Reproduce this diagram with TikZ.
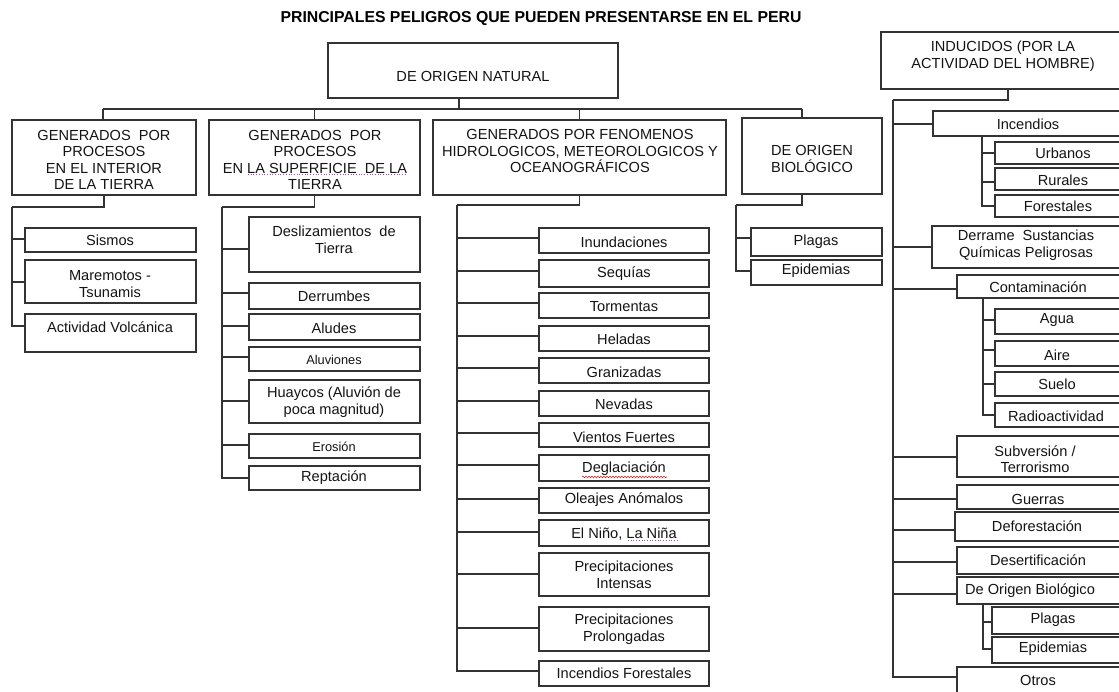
\documentclass[tikz,border=0pt]{standalone}
\usepackage{fontspec}
\setmainfont{Liberation Sans}
\usetikzlibrary{fit,decorations.pathmorphing}
\definecolor{linec}{HTML}{333333}
\definecolor{txtc}{HTML}{141414}
\definecolor{spellr}{HTML}{E02020}
\definecolor{spellm}{HTML}{B040C0}
\newcommand\fsn{\fontsize{14.6}{16.6}\selectfont}
\newcommand\fss{\fontsize{12.8}{14}\selectfont}
\newcommand\curtrunk{t1}
% box node with text: name, x1, y1, x2, y2, text x, text y, text
\newcommand\hb[8]{%
  \node[box, fit={(#2,#3) (#4,#5)}] (#1) {};
  \node[txt] (#1-t) at (#6,#7) {#8};}
% leaf: name, x1, y1, x2, y2, branch y, text x, text y, text
\newcommand\leaf[9]{%
  \node[box, fit={(#2,#3) (#4,#5)}] (#1) {};
  \node[txt] (#1-t) at (#7,#8) {#9};
  \coordinate (#1-in) at (#2,#6);
  \draw[conn] (\curtrunk) |- (#1-in);}
\begin{document}
\begin{tikzpicture}[x=1pt,y=-1pt,
  box/.style={draw=linec, line width=1.15pt, inner sep=0pt, rectangle},
  txt/.style={font=\fsn, align=center, inner sep=0pt, text=txtc},
  conn/.style={draw=linec, line width=1.15pt}]
\useasboundingbox (0,0) rectangle (1119,692);
\clip (0,0) rectangle (1119,692);
\fill[white] (0,0) rectangle (1119,692);

\node[font=\fontsize{15.8}{18}\selectfont\bfseries, text=black, inner sep=0pt] (title) at (541,19) {PRINCIPALES PELIGROS QUE PUEDEN PRESENTARSE EN EL PERU};

% top level
\hb{nat}{328}{43}{618}{98}{473}{76}{DE ORIGEN NATURAL}
\hb{b1}{12}{120}{196}{195}{104}{160}{GENERADOS\ \ POR\\PROCESOS\\EN EL INTERIOR\\DE LA TIERRA}
\hb{b2}{209}{120}{420}{195}{315}{160}{GENERADOS\ \ POR\\PROCESOS\\EN LA SUPERFICIE\ \ DE LA\\TIERRA}
\hb{b3}{433}{120}{726}{195}{580}{151}{GENERADOS POR FENOMENOS\\HIDROLOGICOS, METEOROLOGICOS Y\\OCEANOGRÁFICOS}
\hb{b4}{742}{118}{882}{194}{812}{159}{DE ORIGEN\\BIOLÓGICO}
\hb{ind}{881}{32}{1135}{89}{1003}{56}{INDUCIDOS (POR LA\\ACTIVIDAD DEL HOMBRE)}

% bus from natural
\coordinate (natd) at (459,98);
\coordinate (busL) at (103,109);
\coordinate (busR) at (802,109);
\coordinate (busN) at (459,109);
\draw[conn] (natd) -- (busN);
\draw[conn] (busL) -- (busR);
\draw[conn] (busL) -- (busL |- b1.north);
\draw[conn] (b2.north |- busL) -- (b2.north);
\draw[conn] (b3.north |- busL) -- (b3.north);
\draw[conn] (busR) -- (busR |- b4.north);

% trunks
\coordinate (t1) at (12,207);
\draw[conn] (b1.south) |- (t1);
\coordinate (t2) at (222,207);
\draw[conn] (b2.south) |- (t2);
\coordinate (t3) at (457,205);
\draw[conn] (b3.south) |- (t3);
\coordinate (b4d) at (802,194);
\coordinate (t4) at (736,205);
\draw[conn] (b4d) |- (t4);
\coordinate (tR) at (893,100);
\draw[conn] (ind.south) |- (tR);

% column 1
\renewcommand\curtrunk{t1}
\leaf{s1}{25}{228}{196}{252}{239}{110}{240}{Sismos}
\leaf{s2}{25}{260}{196}{303}{282}{110}{284}{Maremotos -\\Tsunamis}
\leaf{s3}{25}{314}{196}{352}{326}{110}{327}{Actividad Volcánica}

% column 2
\renewcommand\curtrunk{t2}
\leaf{d1}{249}{217}{420}{272}{249}{334}{240}{Deslizamientos\ \ de\\Tierra}
\leaf{d2}{249}{283}{420}{309}{293}{334}{296}{Derrumbes}
\leaf{d3}{249}{314}{420}{340}{326}{334}{328}{Aludes}
\leaf{d4}{249}{347}{420}{371}{357}{334}{360}{\fss Aluviones}
\leaf{d5}{249}{380}{420}{423}{401}{334}{402}{Huaycos (Aluvión de\\poca magnitud)}
\leaf{d6}{249}{434}{420}{458}{445}{334}{447}{\fss Erosión}
\leaf{d7}{249}{466}{420}{490}{478}{334}{478}{Reptación}

% column 3
\renewcommand\curtrunk{t3}
\leaf{h1}{539}{228}{709}{253}{238}{624}{242}{Inundaciones}
\leaf{h2}{539}{260}{709}{287}{271}{624}{274}{Sequías}
\leaf{h3}{539}{293}{709}{318}{303}{624}{307}{Tormentas}
\leaf{h4}{539}{326}{709}{351}{336}{624}{339}{Heladas}
\leaf{h5}{539}{358}{709}{383}{368}{624}{372}{Granizadas}
\leaf{h6}{539}{391}{709}{416}{401}{624}{404}{Nevadas}
\leaf{h7}{539}{423}{709}{447}{433}{624}{437}{Vientos Fuertes}
\leaf{h8}{539}{455}{709}{481}{465}{624}{469}{Deglaciación}
\leaf{h9}{539}{488}{709}{513}{499}{624}{500}{Oleajes Anómalos}
\leaf{h10}{539}{520}{709}{546}{532}{624}{534}{El Niño, La Niña}
\leaf{h11}{539}{553}{709}{596}{574}{624}{575}{Precipitaciones\\Intensas}
\leaf{h12}{539}{607}{709}{651}{628}{624}{629}{Precipitaciones\\Prolongadas}
\leaf{h13}{539}{661}{709}{686}{671}{624}{673}{Incendios Forestales}

% column 4
\renewcommand\curtrunk{t4}
\leaf{p1}{751}{228}{882}{256}{238}{816}{242}{Plagas}
\leaf{p2}{751}{260}{882}{285}{271}{816}{271}{Epidemias}

% right column
\renewcommand\curtrunk{tR}
\leaf{r1}{933}{111}{1135}{136}{124}{1028}{124}{Incendios}
\leaf{r2}{932}{226}{1135}{268}{247}{1026}{245}{Derrame\ \ Sustancias\\Químicas Peligrosas}
\leaf{r3}{957}{275}{1135}{298}{289}{1038}{287}{Contaminación}
\leaf{r4}{957}{436}{1135}{477}{457}{1035}{459}{Subversión /\\Terrorismo}
\leaf{r5}{957}{485}{1135}{509}{499}{1038}{499}{Guerras}
\leaf{r6}{955}{512}{1135}{541}{530}{1037}{526}{Deforestación}
\leaf{r7}{957}{547}{1135}{574}{562}{1038}{560}{Desertificación}
\leaf{r8}{957}{577}{1135}{604}{594}{1030}{591}{De Origen Biológico}
\leaf{r9}{957}{667}{1135}{705}{677}{1038}{680}{Otros}

% sub-trunks
\coordinate (sI) at (982,136);
\renewcommand\curtrunk{sI}
\leaf{u1}{995}{142}{1135}{164}{153}{1063}{153}{Urbanos}
\leaf{u2}{995}{168}{1135}{190}{182}{1063}{180}{Rurales}
\leaf{u3}{995}{195}{1135}{217}{206}{1058}{206}{Forestales}

\coordinate (sC) at (983,298);
\renewcommand\curtrunk{sC}
\leaf{a1}{995}{309}{1135}{334}{320}{1057}{320}{Agua}
\leaf{a2}{995}{341}{1135}{366}{350}{1057}{355}{Aire}
\leaf{a3}{995}{372}{1135}{396}{384}{1057}{384}{Suelo}
\leaf{a4}{995}{403}{1135}{427}{415}{1056}{416}{Radioactividad}

\coordinate (sB) at (983,604);
\renewcommand\curtrunk{sB}
\leaf{o1}{992}{607}{1135}{634}{622}{1053}{620}{Plagas}
\leaf{o2}{992}{637}{1135}{663}{649}{1053}{649}{Epidemias}

% spell-check marks
\draw[spellm, line width=0.7pt, dotted] (248,174.5) -- (405,174.5);
\draw[spellm, line width=0.7pt, dotted] (628,540) -- (678,540);
\draw[spellr, line width=0.6pt, decorate, decoration={snake, amplitude=0.8pt, segment length=3pt}] (582,477) -- (667,477);
\end{tikzpicture}
\end{document}
